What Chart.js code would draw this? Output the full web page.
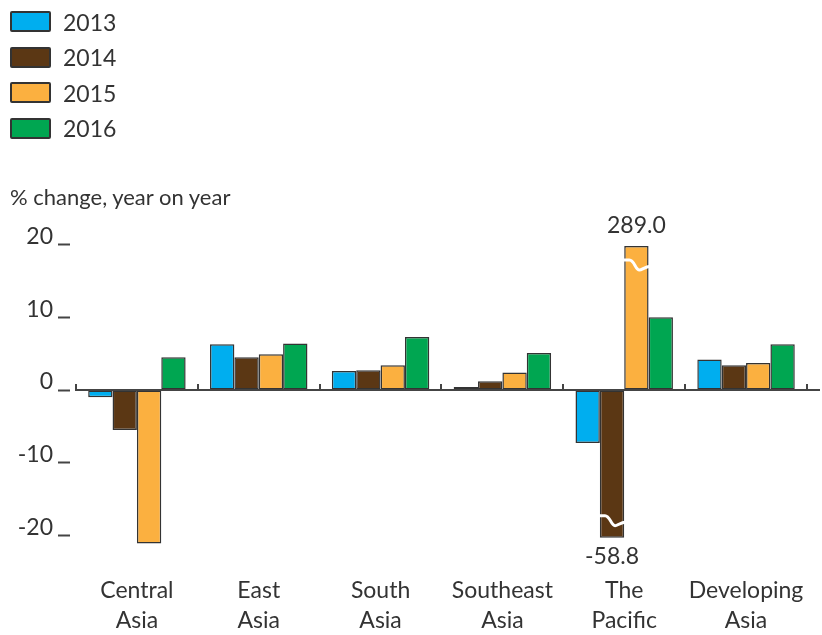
<!DOCTYPE html>
<html><head><meta charset="utf-8">
<script src="https://cdn.jsdelivr.net/npm/chart.js@4.4.0/dist/chart.umd.min.js"></script>
<style>
html,body{margin:0;padding:0;background:#fff;}
#wrap{position:relative;width:822px;height:635px;overflow:hidden;}
#c{position:absolute;left:0;top:0;}
#legend{position:absolute;left:10px;top:4px;font-family:Lato,sans-serif;font-size:23px;color:#333;}
.item{display:flex;align-items:center;height:35.5px;}
.box{width:37px;height:17px;border:2px solid #333;border-radius:2px;margin-right:12px;}
#ytitle{position:absolute;left:10px;top:183px;font-family:Lato,sans-serif;font-size:22px;color:#333;white-space:nowrap;}
</style></head>
<body>
<div id="wrap">
<canvas id="c" width="822" height="635"></canvas>
<div id="legend"></div>
<div id="ytitle">% change, year on year</div>
</div>
<script>
const categories = [['Central','Asia'],['East','Asia'],['South','Asia'],['Southeast','Asia'],['The','Pacific'],['Developing','Asia']];
const years = ['2013','2014','2015','2016'];
const growth2013 = [-1.0, 6.3, 2.6, 0.4, -7.3, 4.2];
const growth2014 = [-5.5, 4.5, 2.7, 1.2, -58.8, 3.4];
const growth2015 = [-21.1, 4.9, 3.4, 2.4, 289.0, 3.7];
const growth2016 = [4.5, 6.4, 7.3, 5.1, 10.0, 6.3];
const yTicks = [-20, -10, 0, 10, 20];
const yAxisTitle = '% change, year on year';
// values at which off-scale bars are cut by the axis break
const breakHigh = 19.8;
const breakLow = -20.3;
const outOfScale = 25;

const colors = ['#00aeef', '#5b3714', '#fbb040', '#00a651'];
const series = [growth2013, growth2014, growth2015, growth2016];
const shown = v => v > outOfScale ? breakHigh : (v < -outOfScale ? breakLow : v);

// HTML legend
const legend = document.getElementById('legend');
years.forEach((yr, i) => {
  const it = document.createElement('div'); it.className = 'item';
  const b = document.createElement('div'); b.className = 'box'; b.style.background = colors[i];
  const t = document.createElement('span'); t.textContent = yr;
  it.appendChild(b); it.appendChild(t); legend.appendChild(it);
});
document.getElementById('ytitle').textContent = yAxisTitle;

const overlay = {
  id: 'overlay',
  afterDatasetsDraw(chart) {
    const {ctx, chartArea, scales: {x, y}} = chart;
    const y0 = y.getPixelForValue(0);
    ctx.save();
    ctx.strokeStyle = '#444'; ctx.lineWidth = 2;
    ctx.beginPath(); ctx.moveTo(chartArea.left - 1, y0); ctx.lineTo(chart.width - 2, y0); ctx.stroke();
    for (let i = 0; i <= categories.length; i++) {
      const px = Math.round(x.getPixelForValue(i - 0.5));
      ctx.beginPath(); ctx.moveTo(px, y0); ctx.lineTo(px, y0 - 6); ctx.stroke();
    }
    chart.data.datasets.forEach((ds, di) => {
      const meta = chart.getDatasetMeta(di);
      ds.rawValues.forEach((v, i) => {
        if (Math.abs(v) <= outOfScale) return;
        const bar = meta.data[i];
        const l = bar.x - bar.width / 2, r = bar.x + bar.width / 2;
        const up = v > 0;
        const yb = up ? bar.y + 14 : bar.y - 22;
        ctx.strokeStyle = '#fff'; ctx.lineWidth = 3;
        ctx.beginPath();
        ctx.moveTo(l - 3, yb);
        ctx.lineTo(bar.x - 7, yb);
        ctx.bezierCurveTo(bar.x - 2, yb, bar.x - 1, yb + 10, bar.x + 3, yb + 10);
        ctx.bezierCurveTo(bar.x + 6, yb + 10, bar.x + 7, yb + 7, r + 3, yb + 6);
        ctx.stroke();
        ctx.fillStyle = '#333';
        ctx.font = '23px Lato, sans-serif';
        ctx.textAlign = 'center'; ctx.textBaseline = 'middle';
        ctx.fillText(v.toFixed(1), bar.x, up ? bar.y - 20 : bar.y + 19);
      });
    });
    ctx.restore();
  }
};

new Chart(document.getElementById('c'), {
  type: 'bar',
  data: {
    labels: categories,
    datasets: series.map((s, i) => ({
      label: years[i],
      data: s.map(shown),
      rawValues: s,
      backgroundColor: colors[i],
      borderColor: '#333',
      borderWidth: 1.5,
      borderSkipped: false,
      barPercentage: 1.0,
      categoryPercentage: 0.8
    }))
  },
  options: {
    responsive: false,
    animation: false,
    layout: {padding: {top: 230, right: 8, bottom: 0, left: 0}},
    plugins: {legend: {display: false}, tooltip: {enabled: false}},
    scales: {
      x: {
        grid: {display: false},
        border: {display: false},
        afterFit: s => { s.height = 85; },
        ticks: {font: {family: 'Lato', size: 23, lineHeight: 1.3}, color: '#333', padding: 18, maxRotation: 0, autoSkip: false}
      },
      y: {
        min: -22, max: 22,
        afterBuildTicks: s => { s.ticks = yTicks.map(v => ({value: v})); },
        afterFit: s => { s.width = 76; },
        border: {display: false},
        grid: {drawOnChartArea: false, drawTicks: true, tickLength: 18, tickWidth: 2, tickColor: '#444', tickBorderDash: [12, 6]},
        ticks: {font: {family: 'Lato', size: 23}, color: '#333', padding: 5, labelOffset: -8, callback: v => String(v)}
      }
    }
  },
  plugins: [overlay]
});
</script>
</body></html>
